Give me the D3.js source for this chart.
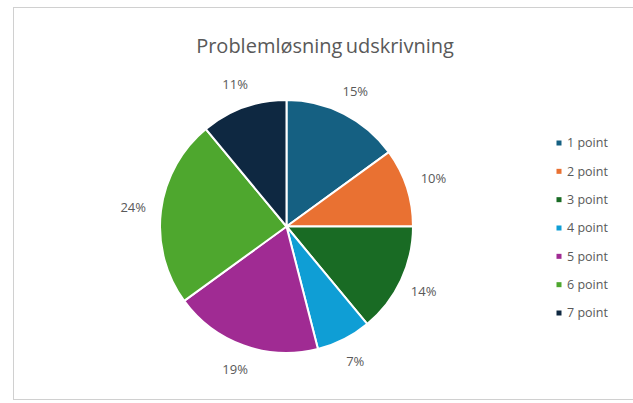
<!DOCTYPE html>
<html>
<head>
<meta charset="utf-8">
<script src="https://cdn.jsdelivr.net/npm/d3@7"></script>
<style>
  html, body { margin: 0; padding: 0; background: #ffffff; }
  svg { display: block; }
</style>
</head>
<body>
<svg id="chart" width="633" height="403"></svg>
<script>
const title = "Problemløsning udskrivning";
const categories = ["1 point", "2 point", "3 point", "4 point", "5 point", "6 point", "7 point"];
const values = [15, 10, 14, 7, 19, 24, 11];
const colors = ["#156082", "#E97132", "#196B24", "#0F9ED5", "#A02B93", "#4EA72E", "#0E2841"];

const W = 633, H = 403;
const svg = d3.select("#chart");
const font = "'Open Sans', 'Noto Sans', sans-serif";

// chart frame
svg.append("rect")
  .attr("x", 13.5).attr("y", 7.5)
  .attr("width", W).attr("height", 392)
  .attr("fill", "#ffffff")
  .attr("stroke", "#d0d0d0").attr("stroke-width", 1);

// title
svg.append("text")
  .attr("x", 325).attr("y", 53)
  .attr("text-anchor", "middle")
  .attr("font-family", font)
  .attr("font-size", 20)
  .attr("fill", "#595959")
  .attr("word-spacing", -2)
  .text(title);

const cx = 286.5, cy = 226.5, r = 126.5;
const data = categories.map((c, i) => ({ cat: c, value: values[i], color: colors[i] }));
const pie = d3.pie().value(d => d.value).sort(null);
const arcs = pie(data);
const arc = d3.arc().innerRadius(0).outerRadius(r);

const g = svg.append("g").attr("transform", `translate(${cx},${cy})`);
g.selectAll("path.slice").data(arcs).join("path")
  .attr("class", "slice")
  .attr("d", arc)
  .attr("fill", d => d.data.color)
  .attr("stroke", "#ffffff")
  .attr("stroke-width", 2)
  .attr("stroke-linejoin", "round");

const total = d3.sum(values);
const labelArc = d3.arc().innerRadius(r + 25).outerRadius(r + 25);
g.selectAll("text.lbl").data(arcs).join("text")
  .attr("class", "lbl")
  .attr("transform", d => {
    const [x, y] = labelArc.centroid(d);
    const mid = (d.startAngle + d.endAngle) / 2;
    const extra = Math.abs(Math.sin(mid)) > 0.95 ? 3 : 0;
    const k = (r + 25 + extra) / (r + 25);
    return `translate(${x * k},${y * k})`;
  })
  .attr("text-anchor", "middle")
  .attr("dy", "0.35em")
  .attr("font-family", font)
  .attr("font-size", 13)
  .attr("fill", "#595959")
  .text(d => Math.round(d.data.value / total * 100) + "%");

// legend
const legend = svg.append("g");
const ly = d3.scalePoint().domain(categories).range([143, 313]);
const items = legend.selectAll("g").data(data).join("g")
  .attr("transform", d => `translate(559,${ly(d.cat)})`);
items.append("rect")
  .attr("x", -2.5).attr("y", -2.5)
  .attr("width", 5).attr("height", 5)
  .attr("fill", d => d.color);
items.append("text")
  .attr("x", 8).attr("dy", "0.35em")
  .attr("font-family", font)
  .attr("font-size", 12.5)
  .attr("fill", "#595959")
  .text(d => d.cat);
</script>
</body>
</html>
